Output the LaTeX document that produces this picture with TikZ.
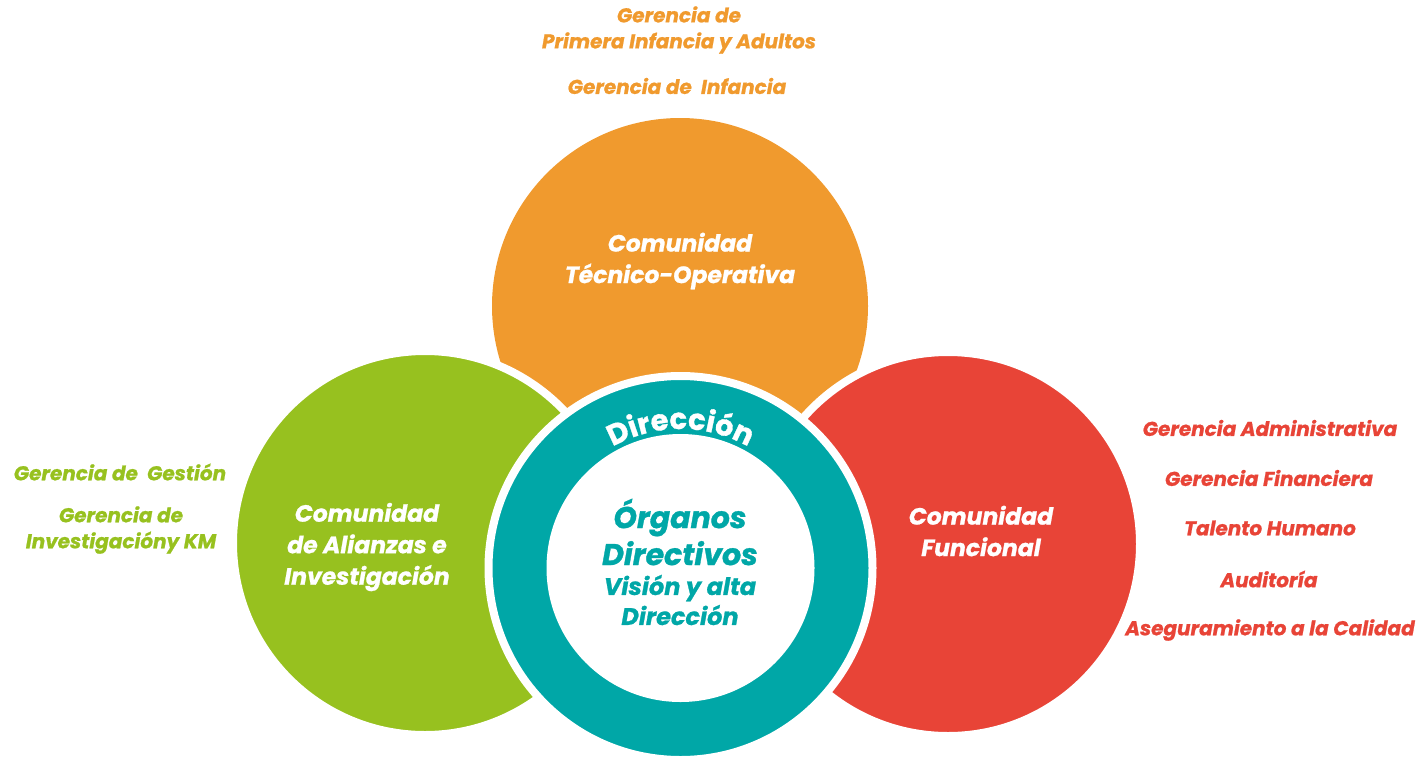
\documentclass[tikz,border=0pt]{standalone}
\usepackage{fontspec}
\newfontfamily\pop{Poppins}[BoldFeatures={FakeBold=1}, BoldItalicFeatures={FakeBold=1}]
\usetikzlibrary{decorations.text}
\definecolor{corange}{HTML}{F09A2E}
\definecolor{cgreen}{HTML}{97C11F}
\definecolor{cred}{HTML}{E84437}
\definecolor{cteal}{HTML}{00A7A7}
\begin{document}
\begin{tikzpicture}[x=1pt,y=-1pt,
  bigc/.style={circle, inner sep=0pt, minimum size=384pt, draw=white, line width=8pt},
  ctext/.style={text=white, align=center, font=\pop\bfseries\itshape\fontsize{23.5}{31.5}\selectfont},
  otext/.style={align=center, font=\pop\bfseries\itshape\fontsize{20}{26}\selectfont},
  ]
\useasboundingbox (0,0) rectangle (1427,756);
% circles
\node[circle, inner sep=0pt, minimum size=376pt, fill=corange] (orange) at (680,306) {};
\node[bigc, fill=cgreen] (green) at (425,543) {};
\node[bigc, fill=cred] (red) at (948,544) {};
\node[bigc, fill=cteal] (ring) at (680.5,568) {};
\node[circle, inner sep=0pt, minimum size=268pt, fill=white] (inner) at (ring.center) {};
% curved title
\path[decorate, decoration={text along path, text align=center, text color=white,
  text={|\pop\bfseries\fontsize{29}{29}\selectfont|Dirección}}]
  (ring.center) ++(200:139) arc[start angle=200, end angle=340, radius=139];
% circle texts
\node[ctext] (tco) at (680,261) {Comunidad\\Técnico-Operativa};
\node[ctext] (tal) at (367,547) {Comunidad\\de Alianzas e\\Investigación};
\node[ctext] (tfu) at (981,531) {Comunidad\\Funcional};
\node[text=cteal, align=center, font=\pop\bfseries\itshape\fontsize{30}{37}\selectfont] (org) at (680,532) {Órganos\\Directivos};
\node[text=cteal, align=center, font=\pop\bfseries\itshape\fontsize{24}{30}\selectfont] (vis) at (680,600) {Visión y alta\\Dirección};
% outer labels - orange
\node[otext, text=corange] (o1) at (679,30) {Gerencia de\\Primera Infancia y Adultos};
\node[otext, text=corange] (o2) at (677,86) {Gerencia de\ \ Infancia};
% green
\node[otext, text=cgreen] (g1) at (120,472) {Gerencia de\ \ Gestión};
\node[otext, text=cgreen] (g2) at (121,530) {Gerencia de\\Investigacióny KM};
% red
\node[otext, text=cred] (r1) at (1270,428) {Gerencia Administrativa};
\node[otext, text=cred] (r2) at (1269,478) {Gerencia Financiera};
\node[otext, text=cred] (r3) at (1270,528) {Talento Humano};
\node[otext, text=cred] (r4) at (1269,579) {Auditoría};
\node[otext, text=cred] (r5) at (1270,630) {Aseguramiento a la Calidad};
\end{tikzpicture}
\end{document}
